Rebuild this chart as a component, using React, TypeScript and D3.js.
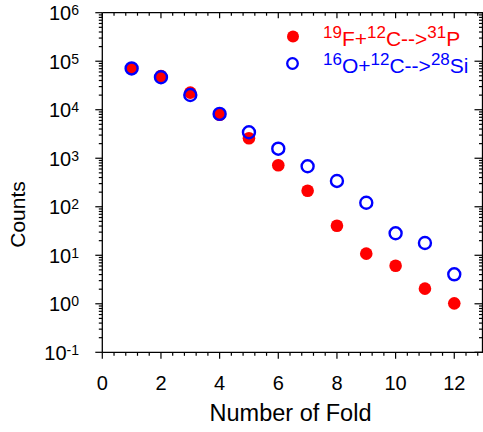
import React from "react";
import * as d3 from "d3";

const folds = [1, 2, 3, 4, 5, 6, 7, 8, 9, 10, 11, 12];
const fP = [71000, 49700, 22500, 7900, 2580, 716, 214, 40.7, 10.8, 6.1, 2.05, 1.02];
const oSi = [71000, 46700, 20100, 8200, 3430, 1574, 683, 340, 121, 28.4, 17.9, 4.05];
const xMajor = [0, 2, 4, 6, 8, 10, 12];
const yExp = [-1, 0, 1, 2, 3, 4, 5, 6];

const W = 483;
const H = 432;
const L = 102.3;
const R = 483.6;
const T = 12.7;
const B = 352.3;
const FONT = "'Liberation Sans', Arial, sans-serif";
const RED = "#ff0000";
const BLUE = "#0000ff";

export default function App() {
  const x = d3.scaleLinear().domain([0, 13]).range([L, R]);
  const y = d3.scaleLog().domain([0.1, 1e6]).range([B, T]);

  const xMinor = d3.range(0, 13.01, 0.4).filter((v) => Math.abs(v / 2 - Math.round(v / 2)) > 1e-6);
  const yMinor: number[] = [];
  for (let e = -1; e < 6; e++) for (let k = 2; k <= 9; k++) yMinor.push(k * Math.pow(10, e));

  const rightX = 482.5;
  const SUP = 17;
  const MAIN = 21;
  const RISE = 8;

  return (
    <svg width={W} height={H} style={{ position: "absolute", left: 0, top: 0, background: "#fff" }} fontFamily={FONT}>
      <rect width={W} height={H} fill="#fff" />
      {/* frame */}
      <g stroke="#000" strokeWidth={1.3} fill="none">
        <line x1={L} y1={T} x2={L} y2={B} />
        <line x1={L} y1={B} x2={W} y2={B} />
        <line x1={L} y1={T} x2={W} y2={T} />
        <line x1={rightX} y1={T} x2={rightX} y2={B} />
      </g>
      {/* ticks */}
      <g stroke="#000" strokeWidth={1.2}>
        {xMajor.map((v) => (
          <g key={"xm" + v}>
            <line x1={x(v)} x2={x(v)} y1={B} y2={B + 6.5} />
            <line x1={x(v)} x2={x(v)} y1={T} y2={T + 5.5} />
          </g>
        ))}
        {xMinor.map((v, i) => (
          <g key={"xn" + i}>
            <line x1={x(v)} x2={x(v)} y1={B} y2={B + 3.5} />
            <line x1={x(v)} x2={x(v)} y1={T} y2={T + 3} />
          </g>
        ))}
        {yExp.map((e) => (
          <g key={"ym" + e}>
            <line x1={L - 7} x2={L} y1={y(Math.pow(10, e))} y2={y(Math.pow(10, e))} />
            <line x1={rightX - 8} x2={rightX} y1={y(Math.pow(10, e))} y2={y(Math.pow(10, e))} />
          </g>
        ))}
        {yMinor.map((v, i) => (
          <g key={"yn" + i}>
            <line x1={L - 3.5} x2={L} y1={y(v)} y2={y(v)} />
            <line x1={rightX - 3.5} x2={rightX} y1={y(v)} y2={y(v)} />
          </g>
        ))}
      </g>
      {/* x tick labels */}
      {xMajor.map((v) => (
        <text key={"xl" + v} x={x(v)} y={B + 38} fontSize={20} textAnchor="middle" fill="#000">
          {v}
        </text>
      ))}
      {/* y tick labels */}
      {yExp.map((e) => (
        <text key={"yl" + e} x={79} y={y(Math.pow(10, e)) + 7.3} fontSize={20} textAnchor="end" fill="#000">
          10
          <tspan fontSize={14} dy={-5}>
            {e}
          </tspan>
        </text>
      ))}
      {/* axis titles */}
      <text x={290.5} y={421} fontSize={23.5} textAnchor="middle" fill="#000">
        Number of Fold
      </text>
      <text transform={`translate(25,${(T + B) / 2 + 32}) rotate(-90)`} fontSize={21} textAnchor="middle" fill="#000">
        Counts
      </text>
      {/* data */}
      <g>
        {folds.map((f, i) => (
          <circle key={"r" + f} cx={x(f)} cy={y(fP[i])} r={6.3} fill={RED} />
        ))}
        {folds.map((f, i) => (
          <circle key={"b" + f} cx={x(f)} cy={y(oSi[i])} r={6} fill="none" stroke={BLUE} strokeWidth={2.4} />
        ))}
      </g>
      {/* legend */}
      <circle cx={293} cy={36.5} r={6} fill={RED} />
      <circle cx={292.5} cy={63.5} r={5.3} fill="none" stroke={BLUE} strokeWidth={2.3} />
      <text x={323} y={45.5} fontSize={MAIN} fill={RED}>
        <tspan fontSize={SUP} dy={-RISE}>19</tspan>
        <tspan dy={RISE}>F+</tspan>
        <tspan fontSize={SUP} dy={-RISE}>12</tspan>
        <tspan dy={RISE}>C--&gt;</tspan>
        <tspan fontSize={SUP} dy={-RISE}>31</tspan>
        <tspan dy={RISE}>P</tspan>
      </text>
      <text x={323} y={72.5} fontSize={MAIN} fill={BLUE}>
        <tspan fontSize={SUP} dy={-RISE}>16</tspan>
        <tspan dy={RISE}>O+</tspan>
        <tspan fontSize={SUP} dy={-RISE}>12</tspan>
        <tspan dy={RISE}>C--&gt;</tspan>
        <tspan fontSize={SUP} dy={-RISE}>28</tspan>
        <tspan dy={RISE}>Si</tspan>
      </text>
    </svg>
  );
}
